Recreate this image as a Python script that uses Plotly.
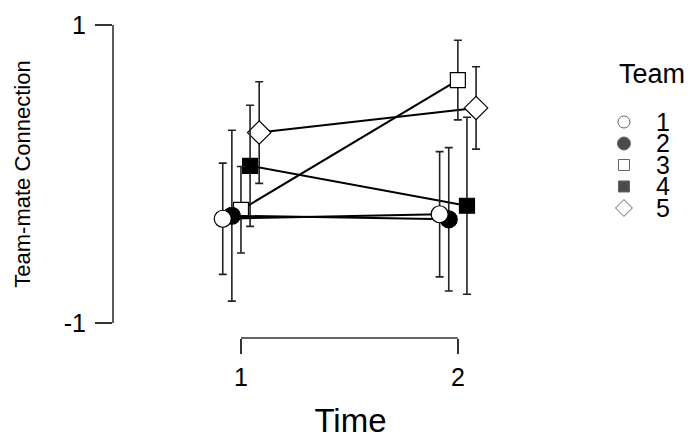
import plotly.graph_objects as go

# ---- data ----
teams = ["1", "2", "3", "4", "5"]
times = [1, 2]
mean_t1 = [-0.30, -0.28, -0.24, 0.055, 0.278]
mean_t2 = [-0.27, -0.304, 0.63, -0.213, 0.443]
err_t1 = [0.373, 0.573, 0.29, 0.406, 0.341]
err_t2 = [0.42, 0.481, 0.267, 0.594, 0.276]
y_ticks = [-1, 1]
x_ticks = [1, 2]

# ---- style ----
symbols = ["circle", "circle", "square", "square", "diamond"]
fills = ["white", "black", "white", "black", "white"]
msizes = [17, 17, 15, 15, 18]
dodge = 0.042

fig = go.Figure()

order = [4, 3, 2, 1, 0]
for i in order:
    off = (i - 2) * dodge
    fig.add_trace(go.Scatter(
        x=[t + off for t in times],
        y=[mean_t1[i], mean_t2[i]],
        mode="lines+markers",
        line=dict(color="black", width=2),
        marker=dict(symbol=symbols[i], size=msizes[i], color=fills[i],
                    line=dict(color="black", width=1.2)),
        error_y=dict(type="data", array=[err_t1[i], err_t2[i]],
                     color="#222", thickness=1.6, width=4),
        showlegend=False,
        name=teams[i],
    ))

# legend built on an auxiliary axis
leg_x = 0.33
fig.add_trace(go.Scatter(
    x=[leg_x] * len(teams),
    y=[k + 1 for k in range(len(teams))],
    mode="markers",
    marker=dict(symbol=symbols, size=[12, 13, 11, 11, 13], color=fills,
                line=dict(color="#222", width=1)),
    xaxis="x2", yaxis="y2", showlegend=False, hoverinfo="skip",
))
for k, t in enumerate(teams):
    fig.add_annotation(x=0.61, y=k + 1, xref="x2", yref="y2", text=t,
                       showarrow=False, xanchor="left", yanchor="middle",
                       font=dict(size=25, color="black"))
fig.add_annotation(x=0.27, y=-1.25, xref="x2", yref="y2", text="Team",
                   showarrow=False, xanchor="left", yanchor="middle",
                   font=dict(size=27, color="black"))

# bracket axis lines
fig.add_shape(type="line", xref="paper", yref="y", x0=0, x1=0,
              y0=y_ticks[0], y1=y_ticks[-1], line=dict(color="#333", width=1.6))
fig.add_shape(type="line", xref="x", yref="paper", x0=x_ticks[0], x1=x_ticks[-1],
              y0=0, y1=0, line=dict(color="#333", width=1.6))

fig.update_layout(
    width=697, height=439,
    margin=dict(l=113, r=0, t=10, b=101),
    plot_bgcolor="white", paper_bgcolor="white",
    font=dict(family="Liberation Sans, Arial, sans-serif", color="black"),
    xaxis=dict(domain=[0, 475 / 584], range=[0.41, 2.6], tickvals=x_ticks,
               ticktext=[str(v) for v in x_ticks], automargin=False,
               showgrid=False, zeroline=False, showline=False,
               ticks="outside", ticklen=15, tickwidth=1.6, tickcolor="#333",
               tickfont=dict(size=25), ticklabelstandoff=2,
               title=dict(text="Time", font=dict(size=33), standoff=18)),
    yaxis=dict(range=[-1.1, 1.1], tickvals=y_ticks,
               ticktext=[str(v) for v in y_ticks], automargin=False,
               showgrid=False, zeroline=False, showline=False,
               ticks="outside", ticklen=17, tickwidth=1.6, tickcolor="#333",
               tickfont=dict(size=25), ticklabelstandoff=4,
               title=dict(text="Team-mate Connection", font=dict(size=22), standoff=27)),
    xaxis2=dict(domain=[475 / 584, 1], range=[0, 1], visible=False, anchor="y2"),
    yaxis2=dict(domain=[0, 1], range=[11.047, -4.209], visible=False, anchor="x2"),
)

fig.write_html("out.html", config={"displayModeBar": False},
               post_script="document.body.style.margin='0';")
